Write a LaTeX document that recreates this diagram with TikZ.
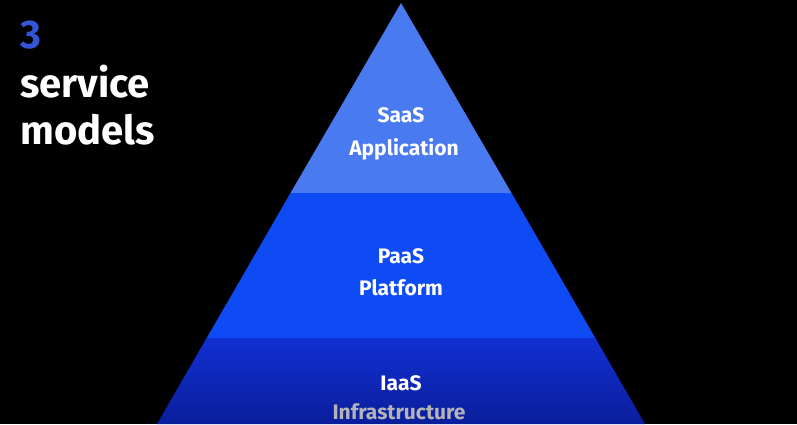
\documentclass[tikz,border=0pt]{standalone}
\usepackage{fontspec}
\setmainfont{Fira Sans}
\definecolor{bgc}{HTML}{000000}
\definecolor{topband}{HTML}{4A7AF0}
\definecolor{midband}{HTML}{0F4BF5}
\definecolor{lowtop}{HTML}{1130D2}
\definecolor{lowbot}{HTML}{0A1E9C}
\definecolor{numblue}{HTML}{3355D6}
\definecolor{infragray}{HTML}{B4B4B8}
\tikzset{
  lbl/.style={anchor=base,text=white,font=\fontsize{21}{24}\selectfont\bfseries,inner sep=0pt},
  title/.style={anchor=base west,text=white,font=\fontsize{40}{46}\selectfont\bfseries,inner sep=0pt}
}
\begin{document}
\begin{tikzpicture}[x=1pt,y=-1pt]
\fill[bgc] (0,0) rectangle (797,424);
\useasboundingbox (0,0) rectangle (797,424);
% pyramid bands
\coordinate (apex) at (401,3);
\fill[topband] (apex) -- (290.5,193) -- (511.5,193) -- cycle;
\fill[midband] (290.5,193) -- (206.7,338) -- (595.3,338) -- (511.5,193) -- cycle;
\shade[top color=lowtop,bottom color=lowbot] (206.7,338) -- (157,424) -- (645,424) -- (595.3,338) -- cycle;
% labels
\node[lbl] (saas) at (401,122) {SaaS};
\node[lbl] (app) at (404,155) {Application};
\node[lbl] (paas) at (401,263) {PaaS};
\node[lbl] (plat) at (401,295) {Platform};
\node[lbl] (iaas) at (401,390) {IaaS};
\node[lbl,text=infragray] (infra) at (399,419) {Infrastructure};
% title
\node[title,text=numblue] (three) at (20,48) {3};
\node[title] (service) at (20,97) {service};
\node[title] (models) at (20,144) {models};
\end{tikzpicture}
\end{document}
